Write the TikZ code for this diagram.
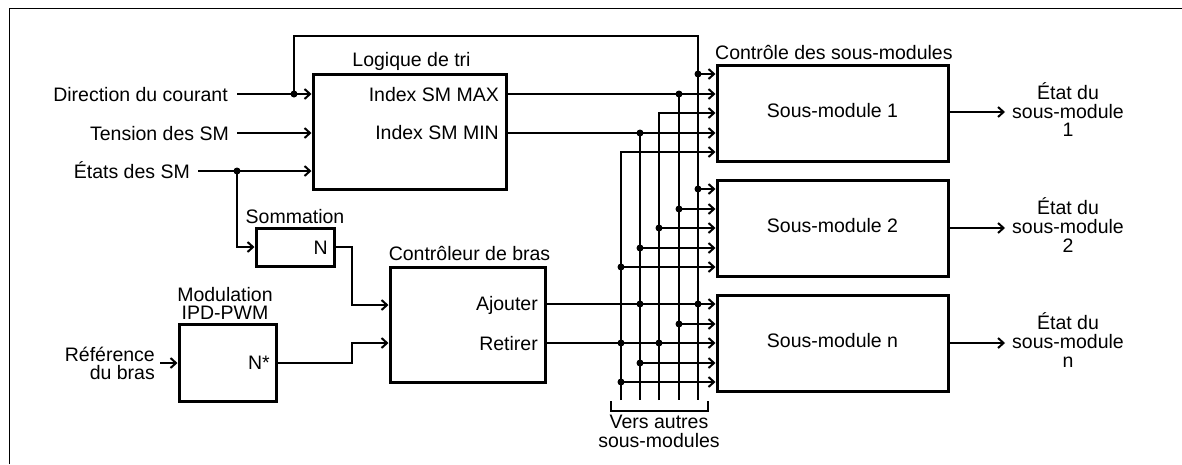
\documentclass[tikz,border=0pt]{standalone}
\usepackage{fontspec}
\setmainfont{Liberation Sans}
\usetikzlibrary{arrows.meta}
\begin{document}
\begin{tikzpicture}[x=1pt,y=-1pt,
  box/.style={draw, line width=3pt, inner sep=0pt},
  wire/.style={line width=2pt},
  arr/.style={wire, -{Straight Barb[length=5.5pt,width=10pt]}},
  lbl/.style={inner sep=0pt, font=\fontsize{19.5}{19}\selectfont},
  jdot/.style={fill}]
\useasboundingbox (0,0) rectangle (1182,464);
\draw[line width=1pt] (9.5,464) -- (9.5,8.5) -- (1182,8.5);

% boxes
\node[box, minimum width=193pt, minimum height=115pt] (lt) at (409.5,131.5) {};
\node[box, minimum width=78pt, minimum height=38pt] (som) at (295,247) {};
\node[box, minimum width=97pt, minimum height=77pt] (mod) at (227.5,363) {};
\node[box, minimum width=155pt, minimum height=115pt] (cb) at (467.5,324.5) {};
\node[box, minimum width=231pt, minimum height=96pt] (sm1) at (832.5,113) {};
\node[box, minimum width=231pt, minimum height=96pt] (sm2) at (832.5,228) {};
\node[box, minimum width=231pt, minimum height=96pt] (smn) at (832.5,343) {};

% labels
\node[lbl, anchor=base] (ltt) at (411.5,66) {Logique de tri};
\node[lbl, anchor=base east] (imax) at (499,101) {Index SM MAX};
\node[lbl, anchor=base east] (imin) at (499,139.5) {Index SM MIN};
\node[lbl, anchor=base east] (dirl) at (228,101) {Direction du courant};
\node[lbl, anchor=base east] (tenl) at (229,140) {Tension des SM};
\node[lbl, anchor=base east] (etal) at (190,178) {États des SM};
\node[lbl, anchor=base] (somt) at (295,223) {Sommation};
\node[lbl, anchor=base east] (nl) at (328,254) {N};
\node[lbl, anchor=base] (modt1) at (225,301) {Modulation};
\node[lbl, anchor=base] (modt2) at (225,319) {IPD-PWM};
\node[lbl, anchor=base east] (nst) at (270,369) {N*};
\node[lbl, anchor=base east] (ref1) at (155,361) {Référence};
\node[lbl, anchor=base east] (ref2) at (155,379) {du bras};
\node[lbl, anchor=base] (cbt) at (469.5,260) {Contrôleur de bras};
\node[lbl, anchor=base east] (ajl) at (538,310) {Ajouter};
\node[lbl, anchor=base east] (rel) at (538,350) {Retirer};
\node[lbl, anchor=base west] (cst) at (715,59) {Contrôle des sous-modules};
\node[lbl, anchor=base] (s1t) at (832.5,117) {Sous-module 1};
\node[lbl, anchor=base] (s2t) at (832.5,232) {Sous-module 2};
\node[lbl, anchor=base] (snt) at (832.5,347) {Sous-module n};
\node[lbl, anchor=base] (e1a) at (1068,99) {État du};
\node[lbl, anchor=base] (e1b) at (1068,118) {sous-module};
\node[lbl, anchor=base] (e1c) at (1068,136.5) {1};
\node[lbl, anchor=base] (e2a) at (1068,214) {État du};
\node[lbl, anchor=base] (e2b) at (1068,233) {sous-module};
\node[lbl, anchor=base] (e2c) at (1068,252) {2};
\node[lbl, anchor=base] (ena) at (1068,329) {État du};
\node[lbl, anchor=base] (enb) at (1068,348) {sous-module};
\node[lbl, anchor=base] (enc) at (1068,367) {n};
\node[lbl, anchor=base] (va) at (659,428) {Vers autres};
\node[lbl, anchor=base] (vb) at (659,447) {sous-modules};

% coordinates
\coordinate (dirS) at (237,94);
\coordinate (jd) at (294,94);
\coordinate (up) at (698,36);
\coordinate (tenS) at (237,133);
\coordinate (etaS) at (198,171);
\coordinate (je) at (237,171);
\coordinate (k1) at (352,305);
\coordinate (k2) at (352,343);
\coordinate (refS) at (160,363);
\coordinate (b1) at (621,400);
\coordinate (b2) at (640,400);
\coordinate (b3) at (659,400);
\coordinate (b4) at (679,400);
\coordinate (b5) at (698,400);
\coordinate (j51) at (698,74);
\coordinate (j41) at (679,94);
\coordinate (c3) at (659,113);
\coordinate (j21) at (640,133);
\coordinate (c1) at (621,152);
\coordinate (j52) at (698,189);
\coordinate (j42) at (679,209);
\coordinate (j32) at (659,228);
\coordinate (j22) at (640,248);
\coordinate (j12) at (621,267);
\coordinate (j53) at (698,304);
\coordinate (j23) at (640,304);
\coordinate (j43) at (679,324);
\coordinate (j13) at (621,343);
\coordinate (j33) at (659,343);
\coordinate (j24) at (640,363);
\coordinate (j14) at (621,382);
\coordinate (o1) at (1005,112);
\coordinate (o2) at (1005,228);
\coordinate (on) at (1005,343);

% left inputs
\draw[arr] (dirS) -- (lt.west |- dirS);
\draw[arr] (tenS) -- (lt.west |- tenS);
\draw[arr] (etaS) -- (lt.west |- etaS);
\draw[wire] (jd) |- (up) -- (b5);
\draw[arr] (je) |- (som.west);
\draw[arr] (som.east) -| (k1) -- (cb.west |- k1);
\draw[arr] (refS) -- (mod.west |- refS);
\draw[arr] (mod.east) -| (k2) -- (cb.west |- k2);

% bus
\draw[wire] (j41) -- (b4);
\draw[wire] (j21) -- (b2);
\draw[arr] (b3) |- (sm1.west |- c3);
\draw[arr] (b1) |- (sm1.west |- c1);
\draw[arr] (j51) -- (sm1.west |- j51);
\draw[arr] (lt.east |- j41) -- (sm1.west |- j41);
\draw[arr] (lt.east |- j21) -- (sm1.west |- j21);
\foreach \p in {j52,j42,j32,j22,j12} \draw[arr] (\p) -- (sm2.west |- \p);
\draw[arr] (cb.east |- j23) -- (smn.west |- j23);
\draw[arr] (cb.east |- j13) -- (smn.west |- j13);
\foreach \p in {j43,j24,j14} \draw[arr] (\p) -- (smn.west |- \p);

\foreach \p in {jd,je,j51,j41,j21,j52,j42,j32,j22,j12,j53,j23,j43,j13,j33,j24,j14}
  \fill[jdot] (\p) circle (3.5);

% outputs
\draw[arr] (sm1.east |- o1) -- (o1);
\draw[arr] (sm2.east |- o2) -- (o2);
\draw[arr] (smn.east |- on) -- (on);

% bracket
\draw[line width=1.5pt] (611,401) -- (611,411) -- (708,411) -- (708,401);
\end{tikzpicture}
\end{document}
